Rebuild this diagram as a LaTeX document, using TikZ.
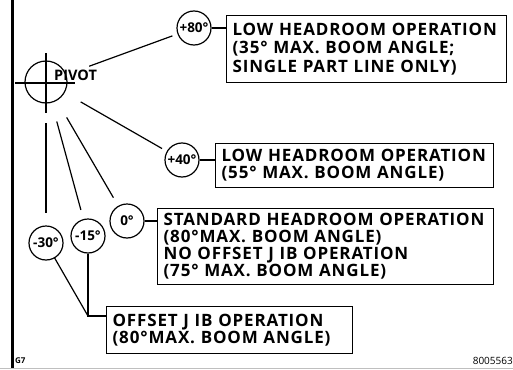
\documentclass[tikz,border=0pt]{standalone}
\usepackage{fontspec}
\setmainfont{Open Sans}
\usetikzlibrary{calc}
\newcommand\bxfont{\fontsize{17}{17}\selectfont\bfseries\addfontfeature{LetterSpace=5}\hyphenpenalty=10000\relax\exhyphenpenalty=10000\relax}
\begin{document}
\begin{tikzpicture}[x=1pt,y=-1pt,
  box/.style={draw, line width=1.2pt, anchor=north west, align=left,
    inner xsep=6pt, inner ysep=0pt, font=\bxfont},
  ang/.style={draw, circle, line width=1.2pt, minimum size=34pt, inner sep=0pt,
    font=\fontsize{13.5}{14}\selectfont\bfseries},
  ln/.style={line width=1.2pt}]
\useasboundingbox (0,0) rectangle (513,369);
% frame
\draw[line width=3pt] (12,0) -- (12,369);
\draw[black!25, line width=1pt] (0,368) -- (513,368);
% pivot
\coordinate (pivot) at (46,82);
\draw[ln] (pivot) circle (21);
\draw[ln] (46,53) -- (46,113);
\draw[ln] (15,83) -- (75,83);
\node[font=\fontsize{14.5}{15}\selectfont\bfseries, anchor=base west, inner sep=0pt] (pv) at (54,80) {PIVOT};
% angle circles
\node[ang] (c80) at (194,28) {+80°};
\node[ang] (c40) at (182,160) {+40°};
\node[ang] (c0) at (127,221) {0°};
\node[ang] (c15) at (88,236) {-15°};
\node[ang] (c30) at (46,243) {-30°};
% boxes
\node[box, minimum width=280pt, minimum height=67pt, text width=268pt] (b1) at (226,15)
  {LOW HEADROOM OPERATION\\[1.5pt](35° MAX. BOOM ANGLE;\\[1.5pt]SINGLE PART LINE ONLY)};
\node[box, minimum width=278pt, minimum height=44pt, text width=266pt] (b2) at (215,143)
  {LOW HEADROOM OPERATION\\(55° MAX. BOOM ANGLE)};
\node[box, minimum width=336pt, minimum height=76pt, text width=324pt] (b3) at (157,208)
  {STANDARD HEADROOM OPERATION\\(80°\hspace{1pt}MAX. BOOM ANGLE)\\NO OFFSET J IB OPERATION\\(75° MAX. BOOM ANGLE)};
\node[box, minimum width=246pt, minimum height=47pt, text width=234pt] (b4) at (106,306)
  {OFFSET J IB OPERATION\\(80°\hspace{1pt}MAX. BOOM ANGLE)};
% radial lines
\draw[ln] ($(pivot)!46pt!(c80)$) -- ($(c80)!23pt!(pivot)$);
\draw[ln] ($(pivot)!40pt!(c40)$) -- ($(c40)!23pt!(pivot)$);
\draw[ln] ($(pivot)!41pt!(c0)$) -- ($(c0)!27pt!(pivot)$);
\draw[ln] ($(pivot)!41pt!(c15)$) -- ($(c15)!27pt!(pivot)$);
\draw[ln] ($(pivot)!41pt!(c30)$) -- ($(c30)!30pt!(pivot)$);
% connectors to boxes
\draw[ln] (c80.east) -- (c80.east -| b1.west);
\draw[ln] (c40.east) -- (c40.east -| b2.west);
\draw[ln] (c0.east) -- (c0.east -| b3.west);
\coordinate (J) at (88,316);
\draw[ln] ($(c30)!17pt!(J)$) -- (J);
\draw[ln] (c15.south) -- (J) -- (J -| b4.west);
% footer
\node[font=\fontsize{8}{8}\selectfont\bfseries, anchor=west, inner sep=0pt] (g7) at (15,361) {G7};
\node[font=\fontsize{10}{10}\selectfont, anchor=east, inner sep=0pt] (num) at (513,361) {8005563};
\end{tikzpicture}
\end{document}
